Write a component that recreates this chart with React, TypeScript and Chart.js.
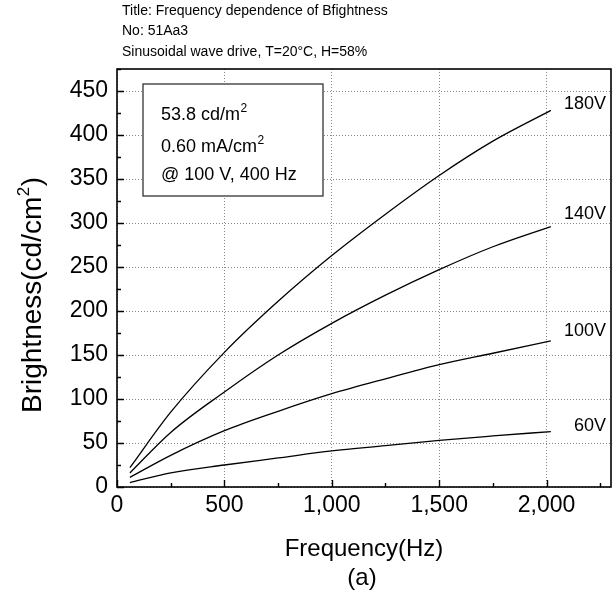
import React, { useEffect, useRef } from "react";
import { Chart, registerables } from "chart.js";

Chart.register(...registerables);

// ---- data ----
const frequencies = [60, 250, 500, 750, 1000, 1250, 1500, 1750, 2020];
const b180 = [22, 85, 153, 211, 263, 310, 354, 393, 428];
const b140 = [16, 62, 108, 150, 186, 218, 247, 273, 296];
const b100 = [11, 36, 64, 86, 106, 123, 139, 152, 166];
const b60 = [5, 16, 25, 33, 41, 47, 53, 58, 63];
const seriesNames = ["180V", "140V", "100V", "60V"];
const seriesLabelY = [435, 310, 177, 69];
const xTickValues = [0, 500, 1000, 1500, 2000];
const yTickValues = [0, 50, 100, 150, 200, 250, 300, 350, 400, 450];
const headerLines = [
  "Title: Frequency dependence of Bfightness",
  "No: 51Aa3",
  "Sinusoidal wave drive, T=20\u00B0C, H=58%",
];
const infoMain = ["53.8 cd/m", "0.60 mA/cm", "@ 100 V, 400 Hz"];
const infoSup = ["2", "2", ""];
const xTitle = "Frequency(Hz)";
const caption = "(a)";
const yTitleMain = "Brightness(cd/cm";
const yTitleSup = "2";
const yTitleEnd = ")";

const FONT = "'Liberation Sans', Arial, Helvetica, sans-serif";

const decorPlugin = {
  id: "decor",
  afterDatasetsDraw(chart: any) {
    const { ctx, chartArea } = chart;
    const xs = chart.scales.x;
    const ys = chart.scales.y;
    const { left, right, top, bottom } = chartArea;
    ctx.save();

    // info box
    const bx = left + 26, by = top + 15, bw = 180, bh = 112;
    ctx.fillStyle = "#fff";
    ctx.fillRect(bx, by, bw, bh);
    ctx.strokeStyle = "#222";
    ctx.lineWidth = 1.2;
    ctx.strokeRect(bx, by, bw, bh);
    ctx.fillStyle = "#000";
    ctx.textAlign = "left";
    ctx.textBaseline = "alphabetic";
    const baselines = [36, 68, 96];
    infoMain.forEach((t, i) => {
      ctx.font = `18px ${FONT}`;
      const tx = bx + 18;
      const ty = by + baselines[i];
      ctx.fillText(t, tx, ty);
      if (infoSup[i]) {
        const w = ctx.measureText(t).width;
        ctx.font = `12px ${FONT}`;
        ctx.fillText(infoSup[i], tx + w + 0.5, ty - 8);
      }
    });

    // series labels
    ctx.font = `18px ${FONT}`;
    ctx.textAlign = "right";
    ctx.textBaseline = "middle";
    seriesNames.forEach((n, i) => {
      ctx.fillText(n, right - 5, ys.getPixelForValue(seriesLabelY[i]));
    });

    // frame
    ctx.strokeStyle = "#000";
    ctx.lineWidth = 1.6;
    ctx.strokeRect(left, top, right - left, bottom - top);

    // inward ticks
    ctx.lineWidth = 1.4;
    ctx.beginPath();
    for (let v = 0; v <= ys.max; v += 25) {
      const p = Math.round(ys.getPixelForValue(v)) + 0.5;
      const len = v % 50 === 0 ? 7 : 4;
      ctx.moveTo(left, p);
      ctx.lineTo(left + len, p);
    }
    for (let v = 0; v <= xs.max; v += 250) {
      const p = Math.round(xs.getPixelForValue(v)) + 0.5;
      const len = v % 500 === 0 ? 7 : 4;
      ctx.moveTo(p, bottom);
      ctx.lineTo(p, bottom - len);
    }
    ctx.stroke();
    ctx.restore();
  },
  afterDraw(chart: any) {
    const { ctx, chartArea } = chart;
    const { left, right } = chartArea;
    ctx.save();
    ctx.fillStyle = "#000";
    // header
    ctx.font = `14px ${FONT}`;
    ctx.textAlign = "left";
    ctx.textBaseline = "alphabetic";
    const hb = [15, 35, 56];
    headerLines.forEach((t, i) => ctx.fillText(t, left + 5, hb[i]));

    // x title + caption
    const cx = (left + right) / 2;
    ctx.font = `24px ${FONT}`;
    ctx.textAlign = "center";
    ctx.fillText(xTitle, cx, 556);
    ctx.fillText(caption, cx - 2, 585);

    // y title (rotated)
    ctx.translate(41, 413);
    ctx.rotate(-Math.PI / 2);
    ctx.textAlign = "left";
    ctx.font = `28px ${FONT}`;
    ctx.fillText(yTitleMain, 0, 0);
    let w = ctx.measureText(yTitleMain).width;
    ctx.font = `17px ${FONT}`;
    ctx.fillText(yTitleSup, w + 0.5, -12);
    w += ctx.measureText(yTitleSup).width + 1;
    ctx.font = `28px ${FONT}`;
    ctx.fillText(yTitleEnd, w, 0);
    ctx.restore();
  },
};

export default function App() {
  const ref = useRef<HTMLCanvasElement | null>(null);
  useEffect(() => {
    if (!ref.current) return;
    const mk = (arr: number[]) => frequencies.map((f, i) => ({ x: f, y: arr[i] }));
    const series = [b180, b140, b100, b60];
    const chart = new Chart(ref.current, {
      type: "line",
      data: {
        datasets: series.map((s, i) => ({
          label: seriesNames[i],
          data: mk(s),
          borderColor: "#000",
          borderWidth: 1.3,
          pointRadius: 0,
          fill: false,
          cubicInterpolationMode: "monotone" as const,
        })),
      },
      options: {
        responsive: false,
        animation: false,
        devicePixelRatio: 1,
        layout: { padding: { left: 0, top: 69, right: 2, bottom: 0 } },
        plugins: { legend: { display: false }, tooltip: { enabled: false } },
        scales: {
          x: {
            type: "linear",
            min: 0,
            max: 2300,
            afterFit: (s: any) => { s.height = 109; s.paddingRight = 0; s.paddingLeft = 0; },
            afterBuildTicks: (s: any) => { s.ticks = xTickValues.map((v) => ({ value: v })); },
            ticks: {
              color: "#000",
              padding: 5,
              maxRotation: 0,
              autoSkip: false,
              font: { family: FONT, size: 23 },
            },
            grid: { color: "#888", lineWidth: 1, drawTicks: false },
            border: { display: false, dash: [1, 2] },
          },
          y: {
            type: "linear",
            min: 0,
            max: 475,
            afterFit: (s: any) => { s.width = 117; s.paddingTop = 0; s.paddingBottom = 0; },
            afterBuildTicks: (s: any) => { s.ticks = yTickValues.map((v) => ({ value: v })); },
            ticks: {
              color: "#000",
              padding: 9,
              autoSkip: false,
              font: { family: FONT, size: 23 },
            },
            grid: { color: "#888", lineWidth: 1, drawTicks: false },
            border: { display: false, dash: [1, 2] },
          },
        },
      },
      plugins: [decorPlugin],
    } as any);
    return () => chart.destroy();
  }, []);
  return (
    <div style={{ position: "fixed", left: 0, top: 0, width: 613, height: 596, background: "#fff" }}>
      <canvas ref={ref} width={613} height={596} style={{ display: "block", width: 613, height: 596 }} />
    </div>
  );
}
